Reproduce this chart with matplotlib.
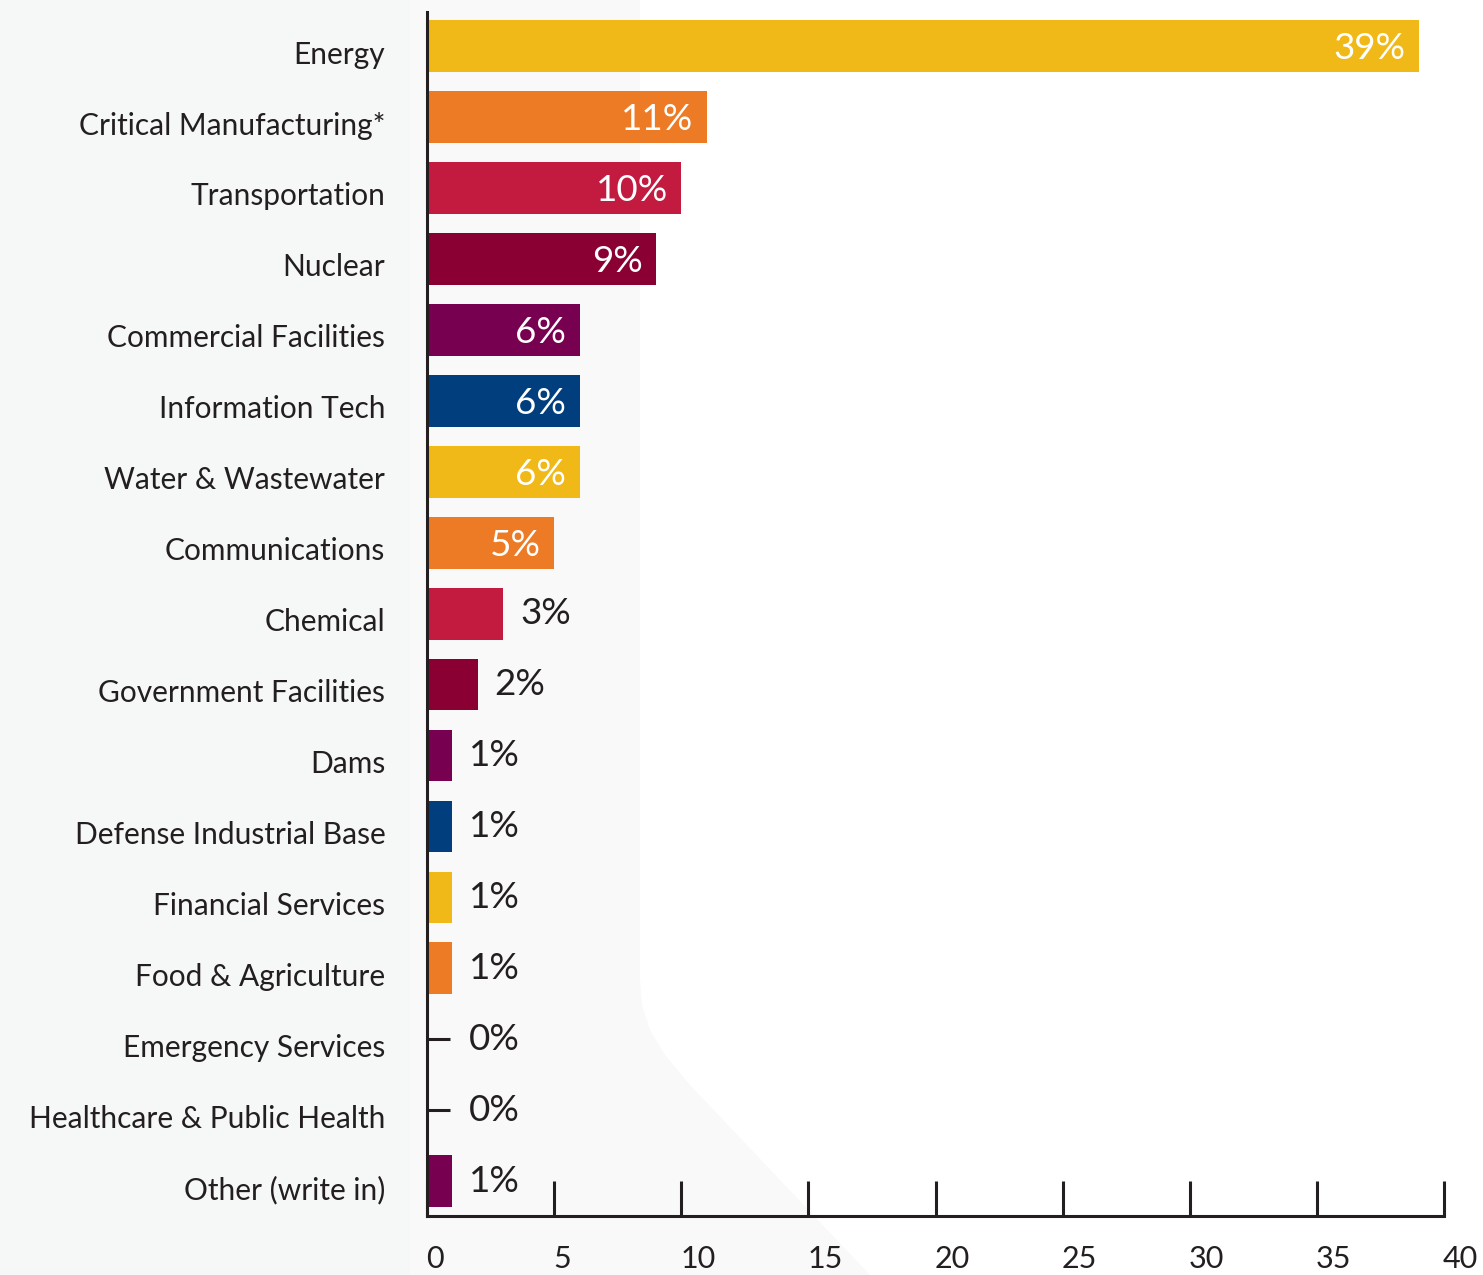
import matplotlib
matplotlib.use("Agg")
import matplotlib.pyplot as plt
import matplotlib.transforms as mtransforms
from matplotlib.patches import Polygon, Rectangle

categories = ["Energy", "Critical Manufacturing*", "Transportation", "Nuclear",
              "Commercial Facilities", "Information Tech", "Water & Wastewater",
              "Communications", "Chemical", "Government Facilities", "Dams",
              "Defense Industrial Base", "Financial Services", "Food & Agriculture",
              "Emergency Services", "Healthcare & Public Health", "Other (write in)"]
values = [39, 11, 10, 9, 6, 6, 6, 5, 3, 2, 1, 1, 1, 1, 0, 0, 1]
value_labels = ["39%", "11%", "10%", "9%", "6%", "6%", "6%", "5%", "3%", "2%",
                "1%", "1%", "1%", "1%", "0%", "0%", "1%"]
palette = ["#F0B918", "#ED7B26", "#C31A40", "#8A0032", "#780050", "#003E7E"]
x_ticks = [0, 5, 10, 15, 20, 25, 30, 35, 40]
x_ticklabels = ["0", "5", "10", "15", "20", "25", "30", "35", "40"]

plt.rcParams['font.family'] = ['Lato', 'DejaVu Sans']
TEXT = "#231F20"

W, H = 1483, 1275
fig = plt.figure(figsize=(W / 100, H / 100), dpi=100)
fig.patch.set_facecolor("#F9F9F9")

# decorative background shapes
fig.patches.append(Rectangle((0, 0), 410 / W, 1, transform=fig.transFigure,
                             facecolor="#F6F7F7", edgecolor="none", zorder=-3))
white_pts = [(640, 0), (1483, 0), (1483, 1275), (870, 1275), (690, 1085),
             (665, 1055), (650, 1030), (642, 1005), (640, 980)]
fig.patches.append(Polygon([(x / W, 1 - y / H) for x, y in white_pts], closed=True,
                           transform=fig.transFigure, facecolor="white",
                           edgecolor="none", zorder=-2))

ax = fig.add_axes([427 / W, 59 / H, (1444 - 427) / W, (1216 - 12) / H])
ax.set_facecolor("none")

n = len(categories)
ypos = list(range(n))
colors = [palette[i % len(palette)] for i in range(n)]
ax.barh(ypos, values, height=0.73, color=colors, zorder=2)

ax.set_xlim(0, 40)
ax.set_ylim(16.49, -0.48)
ax.set_axisbelow(True)

for sp in ["top", "right"]:
    ax.spines[sp].set_visible(False)
for sp in ["left", "bottom"]:
    ax.spines[sp].set_color(TEXT)
    ax.spines[sp].set_linewidth(2.2)

ax.set_xticks(x_ticks)
ax.set_xticklabels(x_ticklabels, ha="left")
ax.tick_params(axis="x", direction="in", length=25, width=2.2, color=TEXT,
               labelsize=22, labelcolor=TEXT, pad=21)
ax.set_yticks(ypos)
ax.set_yticklabels(categories)
ax.tick_params(axis="y", direction="in", length=16.8, width=2.2, color=TEXT,
               labelsize=21.5, labelcolor=TEXT, pad=30)

offset = mtransforms.ScaledTranslation(0, -0.06, fig.dpi_scale_trans)
for lab in ax.get_yticklabels():
    lab.set_transform(lab.get_transform() + offset)
xoff = mtransforms.ScaledTranslation(-0.01, 0, fig.dpi_scale_trans)
for lab in ax.get_xticklabels():
    lab.set_transform(lab.get_transform() + xoff)

for y, v, txt in zip(ypos, values, value_labels):
    if v >= 5:
        ax.annotate(txt, xy=(v, y), xytext=(-9.5, -2), textcoords="offset points",
                    ha="right", va="center", color="white", fontsize=26.5, zorder=3)
    else:
        ax.annotate(txt, xy=(max(v, 1), y), xytext=(12, 0), textcoords="offset points",
                    ha="left", va="center", color=TEXT, fontsize=26.5, zorder=3)

fig.savefig("out.png", dpi=100, facecolor=fig.get_facecolor())
